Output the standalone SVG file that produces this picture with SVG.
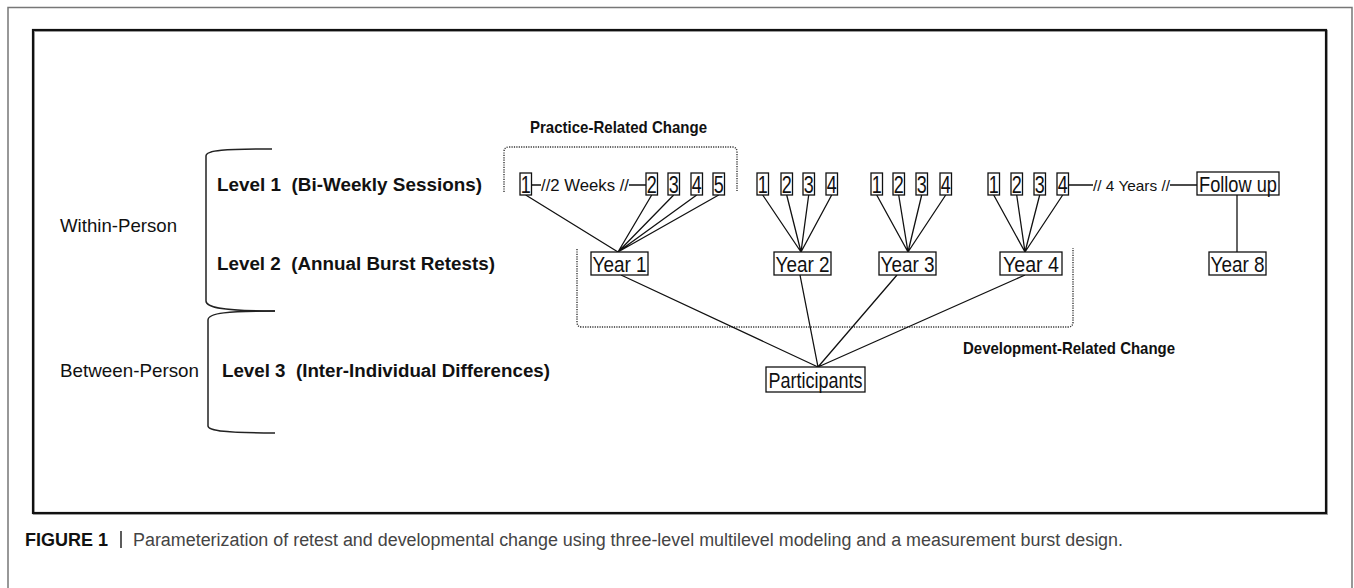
<svg xmlns="http://www.w3.org/2000/svg" width="1354" height="588" viewBox="0 0 1354 588">
<style>
text{font-family:"Liberation Sans",Arial,sans-serif;fill:#111}
.b{font-weight:bold}
.box{fill:#fff;stroke:#111;stroke-width:1.3}
.lab{font-size:22px;text-anchor:middle}
.dig{font-size:24px;text-anchor:middle}
.ln{stroke:#111;stroke-width:1.3;fill:none}
.dot{stroke:#333;stroke-width:1.4;fill:none;stroke-dasharray:1.2 1.2}
.brace{stroke:#222;stroke-width:1.5;fill:none}
</style>
<rect width="1354" height="588" fill="#fff"/>
<path d="M8,588 V7.5 H1352 V588" fill="none" stroke="#777" stroke-width="1.5"/>
<rect x="34" y="31" width="1293" height="483" fill="none" stroke="#aaa" stroke-width="2"/>
<rect x="33" y="30" width="1293" height="483" fill="none" stroke="#111" stroke-width="2.2"/>

<g id="labels">
<text x="60" y="232" font-size="19" textLength="117" lengthAdjust="spacingAndGlyphs">Within-Person</text>
<text x="60" y="377" font-size="19" textLength="139" lengthAdjust="spacingAndGlyphs">Between-Person</text>
<text class="b" x="217" y="191" font-size="18" textLength="265" lengthAdjust="spacingAndGlyphs" xml:space="preserve">Level 1  (Bi-Weekly Sessions)</text>
<text class="b" x="217" y="270" font-size="18" textLength="278" lengthAdjust="spacingAndGlyphs" xml:space="preserve">Level 2  (Annual Burst Retests)</text>
<text class="b" x="222" y="377" font-size="18" textLength="328" lengthAdjust="spacingAndGlyphs" xml:space="preserve">Level 3  (Inter-Individual Differences)</text>
<text class="b" x="530" y="133" font-size="16.5" textLength="177" lengthAdjust="spacingAndGlyphs">Practice-Related Change</text>
<text class="b" x="963" y="354" font-size="16.5" textLength="212" lengthAdjust="spacingAndGlyphs">Development-Related Change</text>
</g>

<g id="braces">
<path class="brace" d="M272,149 C225,149 206,150 206,156 L206,301 C206,308 225,311 275,311"/>
<path class="brace" d="M275,311 C228,311 208,313 208,320 L208,426 C208,431 228,433 275,433"/>
</g>

<g id="groupings">
<path class="dot" d="M504,192 L504,152 Q504,147 509,147 L732,147 Q737,147 737,152 L737,191"/>
<path class="dot" d="M577,249 L577,322 Q577,327 582,327 L1068,327 Q1073,327 1073,322 L1073,248"/>
</g>

<g id="connectors">
<path class="ln" d="M531,185 H541 M629,185 H646 M1068,185 H1093 M1170,185 H1197"/>
<path class="ln" d="M525.7,195 L618,252 M651.7,195 L618,252 M673.7,195 L618,252 M696.7,195 L618,252 M718.7,195 L618,252"/>
<path class="ln" d="M762.7,195 L801,252 M786.7,195 L801,252 M808.7,195 L801,252 M831.7,195 L801,252"/>
<path class="ln" d="M876.7,195 L908,252 M898.7,195 L908,252 M921.7,195 L908,252 M945.7,195 L908,252"/>
<path class="ln" d="M993.7,195 L1025,252 M1016.7,195 L1025,252 M1039.7,195 L1025,252 M1062.7,195 L1025,252"/>
<path class="ln" d="M1237,195 V252"/>
<path class="ln" d="M621,275 L818,367 M800,275 L818,367 M897,275 L818,367 M1025,275 L818,367"/>
<text x="541" y="191" font-size="16" textLength="88" lengthAdjust="spacingAndGlyphs">//2 Weeks //</text>
<text x="1093" y="191" font-size="15" textLength="77" lengthAdjust="spacingAndGlyphs">// 4 Years //</text>
</g>

<g id="s1-1"><rect class="box" x="520" y="173" width="11.5" height="22"/><text class="dig" x="525.7" y="193" textLength="10" lengthAdjust="spacingAndGlyphs">1</text></g>
<g id="s1-2"><rect class="box" x="646" y="173" width="11.5" height="22"/><text class="dig" x="651.7" y="193" textLength="10" lengthAdjust="spacingAndGlyphs">2</text></g>
<g id="s1-3"><rect class="box" x="668" y="173" width="11.5" height="22"/><text class="dig" x="673.7" y="193" textLength="10" lengthAdjust="spacingAndGlyphs">3</text></g>
<g id="s1-4"><rect class="box" x="691" y="173" width="11.5" height="22"/><text class="dig" x="696.7" y="193" textLength="10" lengthAdjust="spacingAndGlyphs">4</text></g>
<g id="s1-5"><rect class="box" x="713" y="173" width="11.5" height="22"/><text class="dig" x="718.7" y="193" textLength="10" lengthAdjust="spacingAndGlyphs">5</text></g>

<g id="s2-1"><rect class="box" x="757" y="173" width="11.5" height="22"/><text class="dig" x="762.7" y="193" textLength="10" lengthAdjust="spacingAndGlyphs">1</text></g>
<g id="s2-2"><rect class="box" x="781" y="173" width="11.5" height="22"/><text class="dig" x="786.7" y="193" textLength="10" lengthAdjust="spacingAndGlyphs">2</text></g>
<g id="s2-3"><rect class="box" x="803" y="173" width="11.5" height="22"/><text class="dig" x="808.7" y="193" textLength="10" lengthAdjust="spacingAndGlyphs">3</text></g>
<g id="s2-4"><rect class="box" x="826" y="173" width="11.5" height="22"/><text class="dig" x="831.7" y="193" textLength="10" lengthAdjust="spacingAndGlyphs">4</text></g>

<g id="s3-1"><rect class="box" x="871" y="173" width="11.5" height="22"/><text class="dig" x="876.7" y="193" textLength="10" lengthAdjust="spacingAndGlyphs">1</text></g>
<g id="s3-2"><rect class="box" x="893" y="173" width="11.5" height="22"/><text class="dig" x="898.7" y="193" textLength="10" lengthAdjust="spacingAndGlyphs">2</text></g>
<g id="s3-3"><rect class="box" x="916" y="173" width="11.5" height="22"/><text class="dig" x="921.7" y="193" textLength="10" lengthAdjust="spacingAndGlyphs">3</text></g>
<g id="s3-4"><rect class="box" x="940" y="173" width="11.5" height="22"/><text class="dig" x="945.7" y="193" textLength="10" lengthAdjust="spacingAndGlyphs">4</text></g>

<g id="s4-1"><rect class="box" x="988" y="173" width="11.5" height="22"/><text class="dig" x="993.7" y="193" textLength="10" lengthAdjust="spacingAndGlyphs">1</text></g>
<g id="s4-2"><rect class="box" x="1011" y="173" width="11.5" height="22"/><text class="dig" x="1016.7" y="193" textLength="10" lengthAdjust="spacingAndGlyphs">2</text></g>
<g id="s4-3"><rect class="box" x="1034" y="173" width="11.5" height="22"/><text class="dig" x="1039.7" y="193" textLength="10" lengthAdjust="spacingAndGlyphs">3</text></g>
<g id="s4-4"><rect class="box" x="1057" y="173" width="11.5" height="22"/><text class="dig" x="1062.7" y="193" textLength="10" lengthAdjust="spacingAndGlyphs">4</text></g>

<g id="followup"><rect class="box" x="1197" y="172" width="82" height="23"/><text class="lab" x="1238" y="192" font-size="20" textLength="78" lengthAdjust="spacingAndGlyphs">Follow up</text></g>

<g id="year1"><rect class="box" x="591" y="252" width="57" height="23"/><text class="lab" x="619.5" y="272" textLength="54" lengthAdjust="spacingAndGlyphs">Year 1</text></g>
<g id="year2"><rect class="box" x="774" y="252" width="57" height="23"/><text class="lab" x="802.5" y="272" textLength="54" lengthAdjust="spacingAndGlyphs">Year 2</text></g>
<g id="year3"><rect class="box" x="879" y="252" width="57" height="23"/><text class="lab" x="907.5" y="272" textLength="54" lengthAdjust="spacingAndGlyphs">Year 3</text></g>
<g id="year4"><rect class="box" x="1000" y="252" width="62" height="23"/><text class="lab" x="1031" y="272" textLength="56" lengthAdjust="spacingAndGlyphs">Year 4</text></g>
<g id="year8"><rect class="box" x="1209" y="252" width="57" height="23"/><text class="lab" x="1237.5" y="272" textLength="54" lengthAdjust="spacingAndGlyphs">Year 8</text></g>
<g id="participants"><rect class="box" x="766" y="367" width="99" height="25"/><text class="lab" x="815.5" y="388" textLength="94" lengthAdjust="spacingAndGlyphs">Participants</text></g>

<g id="caption">
<text class="b" x="25" y="546" font-size="18" fill="#222" textLength="83" lengthAdjust="spacingAndGlyphs">FIGURE 1</text>
<line x1="121" y1="531" x2="121" y2="548" stroke="#333" stroke-width="1.6"/>
<text x="133" y="546" font-size="18" style="fill:#444" textLength="990" lengthAdjust="spacingAndGlyphs">Parameterization of retest and developmental change using three-level multilevel modeling and a measurement burst design.</text>
</g>
</svg>
